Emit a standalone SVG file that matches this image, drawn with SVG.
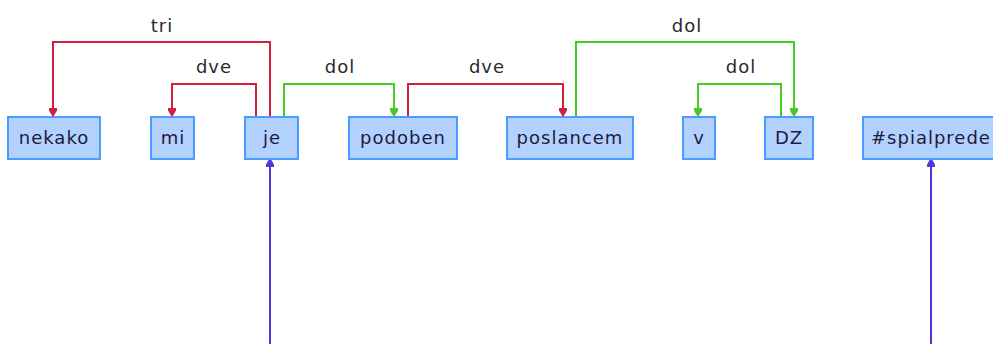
<svg xmlns="http://www.w3.org/2000/svg" width="993" height="344" viewBox="0 0 993 344">
<style>
.box{fill:#b3d1ff;stroke:#4b9cff;stroke-width:2}
.t{font-family:"DejaVu Sans",Verdana,sans-serif;font-size:18px;letter-spacing:1px;fill:#1c1c3c;text-anchor:middle}
.lbl{font-family:"DejaVu Sans",Verdana,sans-serif;font-size:18px;letter-spacing:1px;fill:#2a2a2a;text-anchor:middle}
.c{fill:none;stroke-width:2}
.red{stroke:#d41f40}
.green{stroke:#44cc22}
.blue{stroke:#5533dd}
</style>
<defs>
<marker id="ar" viewBox="0 0 10 10" refX="10" refY="5" markerWidth="8" markerHeight="9" markerUnits="userSpaceOnUse" orient="auto"><path d="M0,0 L3,0 L10,4 L10,6 L3,10 L0,10 z" fill="#d41f40"/></marker>
<marker id="ag" viewBox="0 0 10 10" refX="10" refY="5" markerWidth="8" markerHeight="9" markerUnits="userSpaceOnUse" orient="auto"><path d="M0,0 L3,0 L10,4 L10,6 L3,10 L0,10 z" fill="#44cc22"/></marker>
<marker id="ab" viewBox="0 0 10 10" refX="10" refY="5" markerWidth="8" markerHeight="9" markerUnits="userSpaceOnUse" orient="auto"><path d="M0,0 L3,0 L10,4 L10,6 L3,10 L0,10 z" fill="#5533dd"/></marker>
</defs>
<g id="connectors">
<path class="c red" d="M270,116 V42 H53 V116" marker-end="url(#ar)"/>
<path class="c red" d="M256,116 V84 H172 V116" marker-end="url(#ar)"/>
<path class="c green" d="M284,116 V84 H394 V116" marker-end="url(#ag)"/>
<path class="c red" d="M408,116 V84 H563 V116" marker-end="url(#ar)"/>
<path class="c green" d="M576,116 V42 H794 V116" marker-end="url(#ag)"/>
<path class="c green" d="M781,116 V84 H698 V116" marker-end="url(#ag)"/>
<path class="c blue" d="M270,344 V159" marker-end="url(#ab)"/>
<path class="c blue" d="M931,344 V159" marker-end="url(#ab)"/>
<text class="lbl" x="162" y="32">tri</text>
<text class="lbl" x="214" y="73">dve</text>
<text class="lbl" x="340" y="73">dol</text>
<text class="lbl" x="487" y="73">dve</text>
<text class="lbl" x="687" y="32">dol</text>
<text class="lbl" x="741" y="73">dol</text>
</g>
<g id="n-nekako"><rect class="box" x="8" y="117" width="92" height="42"/><text class="t" x="54" y="144">nekako</text></g>
<g id="n-mi"><rect class="box" x="151" y="117" width="43" height="42"/><text class="t" x="173" y="144">mi</text></g>
<g id="n-je"><rect class="box" x="245" y="117" width="53" height="42"/><text class="t" x="272" y="144">je</text></g>
<g id="n-podoben"><rect class="box" x="349" y="117" width="108" height="42"/><text class="t" x="403" y="144">podoben</text></g>
<g id="n-poslancem"><rect class="box" x="507" y="117" width="126" height="42"/><text class="t" x="570" y="144">poslancem</text></g>
<g id="n-v"><rect class="box" x="683" y="117" width="32" height="42"/><text class="t" x="699" y="144">v</text></g>
<g id="n-DZ"><rect class="box" x="765" y="117" width="48" height="42"/><text class="t" x="789" y="144">DZ</text></g>
<g id="n-spialprede"><rect class="box" x="863" y="117" width="140" height="42"/><text class="t" x="871" y="144" style="text-anchor:start">#spialprede</text></g>
</svg>
